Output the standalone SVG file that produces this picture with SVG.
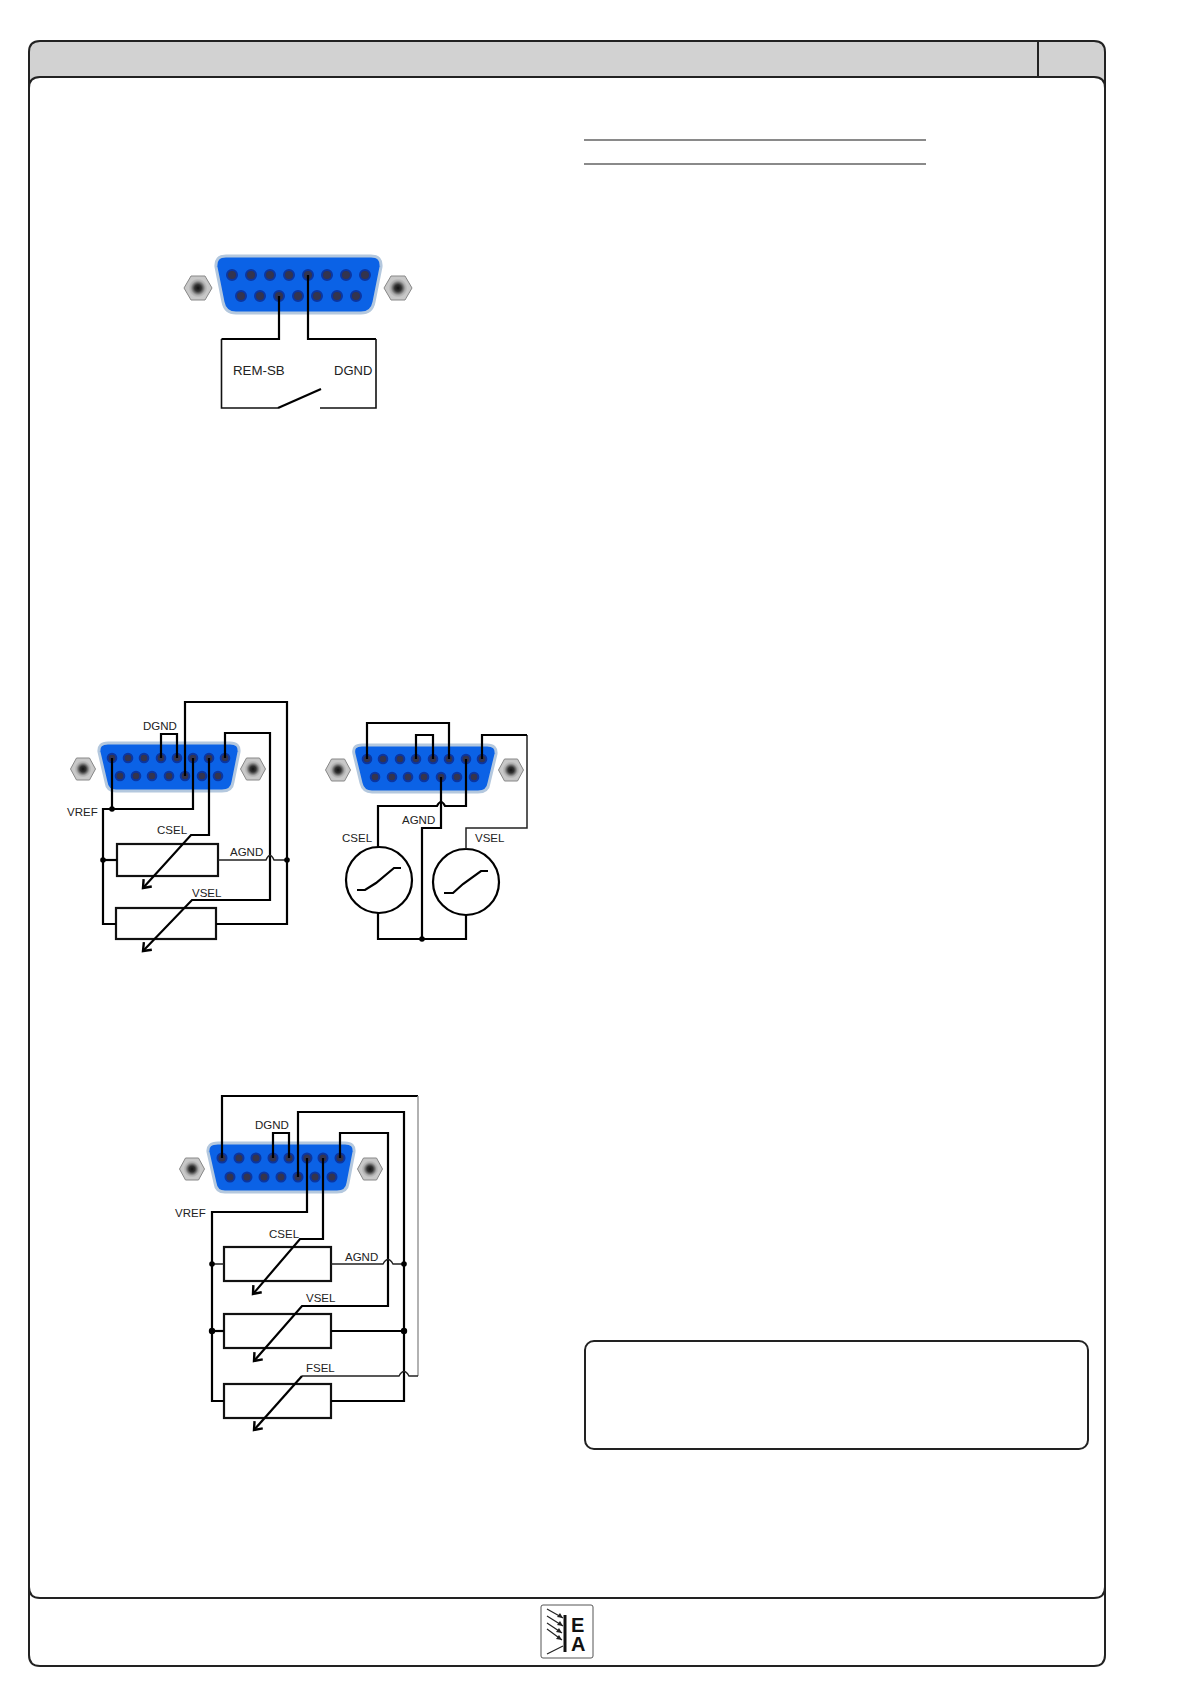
<svg xmlns="http://www.w3.org/2000/svg" width="1191" height="1684" viewBox="0 0 1191 1684">
<style>
.frame{fill:none;stroke:#222;stroke-width:2}
.body{fill:#0b62e6;stroke:#b4c8de;stroke-width:3;stroke-linejoin:round}
.pin{fill:#34344e;stroke:#0b35a0;stroke-width:2}
.w{fill:none;stroke:#000;stroke-width:2.2;stroke-linejoin:miter}
.s{fill:none;stroke:#111;stroke-width:1.6}
.t{fill:none;stroke:#222;stroke-width:1.5}
.g{fill:none;stroke:#999;stroke-width:1.5}
.r{fill:#fff;stroke:#111;stroke-width:2.2}
.ci{fill:#fff;stroke:#000;stroke-width:2.2}
.d{fill:#000}
text{font-family:"Liberation Sans",Arial,sans-serif;fill:#222;font-size:11.500px}
</style>
<defs>
<radialGradient id="sg"><stop offset="0" stop-color="#111"/><stop offset=".35" stop-color="#333"/><stop offset=".75" stop-color="#aaa"/><stop offset="1" stop-color="#c8c8c8"/></radialGradient>
<g id="screw"><polygon points="-14,0 -7,-12 7,-12 14,0 7,12 -7,12" fill="#c8c8c8" stroke="#888" stroke-width="1"/><circle r="9.500" fill="url(#sg)"/></g>
<g id="screwS"><polygon points="-12.500,0 -6.500,-11 6.500,-11 12.500,0 6.500,11 -6.500,11" fill="#c8c8c8" stroke="#888" stroke-width="1"/><circle r="8.500" fill="url(#sg)"/></g>
<marker id="ah" markerWidth="14" markerHeight="14" refX="10" refY="7" orient="auto" markerUnits="userSpaceOnUse"><path d="M3,1.500 L10,7 L3,12.500" fill="none" stroke="#000" stroke-width="2.400"/></marker>
</defs>
<rect width="1191" height="1684" fill="#fff"/>

<g id="page-frame">
<path d="M29,90 V52 Q29,41 40,41 H1094 Q1105,41 1105,52 V90 H29 Z" fill="#d2d2d2"/>
<path class="frame" d="M29,90 V52 Q29,41 40,41 H1094 Q1105,41 1105,52 V90"/>
<path d="M29,88 Q29,77 40,77 H1094 Q1105,77 1105,88 V1587 Q1105,1598 1094,1598 H40 Q29,1598 29,1587 Z" fill="#fff" stroke="#222" stroke-width="2"/>
<path class="frame" d="M1038,41 V77"/>
<path class="frame" d="M29,1587 V1655 Q29,1666 40,1666 H1094 Q1105,1666 1105,1655 V1587"/>
</g>

<g id="rules"><path d="M584,140 H926 M584,164 H926" fill="none" stroke="#8a8a8a" stroke-width="2"/></g>
<g id="note-box"><rect x="585" y="1341" width="503" height="108" rx="9" fill="#fff" stroke="#222" stroke-width="2"/></g>

<g id="logo">
<rect x="541" y="1605" width="52" height="53" rx="2" fill="#fff" stroke="#555" stroke-width="1"/>
<path d="M565,1615 V1652" stroke="#111" stroke-width="3" fill="none"/>
<path d="M547,1609 L563,1618 M547,1616 L563,1626 M547,1623 L562,1633 M547,1629 L562,1640 M547,1654 L563,1646" stroke="#222" stroke-width="1.200" fill="none"/>
<path d="M563,1618 L557,1617 L560,1613 Z M563,1626 L557,1625 L560,1621 Z M562,1633 L556,1632 L559,1628 Z M562,1640 L556,1639 L559,1635 Z" fill="#222"/>
<text x="571" y="1632" style="font-size:20px;font-weight:bold;fill:#111">E</text>
<text x="571" y="1651" style="font-size:20px;font-weight:bold;fill:#111">A</text>
</g>

<g id="connector-1">
<path class="body" d="M226,256 H371 Q382,256 381,267 L374,302 Q372,313 361,313 H236 Q225,313 223,302 L216,267 Q215,256 226,256 Z"/>
<g class="pin"><circle cx="232" cy="275" r="5"/><circle cx="251" cy="275" r="5"/><circle cx="270" cy="275" r="5"/><circle cx="289" cy="275" r="5"/><circle cx="308" cy="275" r="5"/><circle cx="327" cy="275" r="5"/><circle cx="346" cy="275" r="5"/><circle cx="365" cy="275" r="5"/><circle cx="241" cy="296" r="5"/><circle cx="260" cy="296" r="5"/><circle cx="279" cy="296" r="5"/><circle cx="298" cy="296" r="5"/><circle cx="317" cy="296" r="5"/><circle cx="337" cy="296" r="5"/><circle cx="356" cy="296" r="5"/></g>
<use href="#screw" x="198" y="288"/><use href="#screw" x="398" y="288"/>
</g>
<g id="connector-2">
<path class="body" d="M108,743 H230 Q240,743 239,752 L233,782 Q232,791 222,791 H116 Q107,791 106,782 L99,752 Q98,743 108,743 Z"/>
<g class="pin"><circle cx="112" cy="758" r="4.300"/><circle cx="128" cy="758" r="4.300"/><circle cx="144" cy="758" r="4.300"/><circle cx="161" cy="758" r="4.300"/><circle cx="177" cy="758" r="4.300"/><circle cx="193" cy="758" r="4.300"/><circle cx="209" cy="758" r="4.300"/><circle cx="225" cy="758" r="4.300"/><circle cx="120" cy="776" r="4.300"/><circle cx="136" cy="776" r="4.300"/><circle cx="152" cy="776" r="4.300"/><circle cx="169" cy="776" r="4.300"/><circle cx="185" cy="776" r="4.300"/><circle cx="202" cy="776" r="4.300"/><circle cx="218" cy="776" r="4.300"/></g>
<use href="#screwS" x="83" y="769"/><use href="#screwS" x="253" y="769"/>
</g>
<g id="connector-3">
<path class="body" d="M362,745 H487 Q497,745 496,754 L489,783 Q488,792 478,792 H372 Q363,792 361,783 L354,754 Q352,745 362,745 Z"/>
<g class="pin"><circle cx="367" cy="759" r="4.300"/><circle cx="383" cy="759" r="4.300"/><circle cx="400" cy="759" r="4.300"/><circle cx="416" cy="759" r="4.300"/><circle cx="433" cy="759" r="4.300"/><circle cx="449" cy="759" r="4.300"/><circle cx="466" cy="759" r="4.300"/><circle cx="482" cy="759" r="4.300"/><circle cx="375" cy="777" r="4.300"/><circle cx="392" cy="777" r="4.300"/><circle cx="408" cy="777" r="4.300"/><circle cx="424" cy="777" r="4.300"/><circle cx="441" cy="777" r="4.300"/><circle cx="457" cy="777" r="4.300"/><circle cx="474" cy="777" r="4.300"/></g>
<use href="#screwS" x="338" y="770"/><use href="#screwS" x="511" y="770"/>
</g>
<g id="connector-4">
<path class="body" d="M218,1143 H345 Q355,1143 354,1152 L348,1183 Q347,1192 337,1192 H225 Q216,1192 215,1183 L208,1152 Q207,1143 218,1143 Z"/>
<g class="pin"><circle cx="222" cy="1158" r="4.500"/><circle cx="239" cy="1158" r="4.500"/><circle cx="256" cy="1158" r="4.500"/><circle cx="273" cy="1158" r="4.500"/><circle cx="289" cy="1158" r="4.500"/><circle cx="307" cy="1158" r="4.500"/><circle cx="323" cy="1158" r="4.500"/><circle cx="340" cy="1158" r="4.500"/><circle cx="230" cy="1177" r="4.500"/><circle cx="247" cy="1177" r="4.500"/><circle cx="264" cy="1177" r="4.500"/><circle cx="281" cy="1177" r="4.500"/><circle cx="298" cy="1177" r="4.500"/><circle cx="315" cy="1177" r="4.500"/><circle cx="332" cy="1177" r="4.500"/></g>
<use href="#screwS" x="192" y="1169"/><use href="#screwS" x="370" y="1169"/>
</g>

<g id="nodes-components">
<rect id="r1" class="r" x="117" y="844" width="101" height="32"/>
<rect id="r2" class="r" x="116" y="908" width="100" height="31"/>
<circle id="csel-src" class="ci" cx="379" cy="880" r="33"/>
<circle id="vsel-src" class="ci" cx="466" cy="882" r="33"/>
<rect id="r3" class="r" x="224" y="1247" width="107" height="34"/>
<rect id="r4" class="r" x="224" y="1314" width="107" height="34"/>
<rect id="r5" class="r" x="224" y="1384" width="107" height="34"/>
</g>

<g id="connectors">
<path class="w" d="M279,296 V339 H221.500"/>
<path class="s" d="M221.500,339 V408 H278"/>
<path class="w" d="M278,408 L321,389"/>
<path class="w" d="M308,275 V339 H376"/>
<path class="s" d="M376,339 V408 H320"/>

<path class="w" d="M161,758 V734 H177 V758"/>
<path class="w" d="M185,776 V702 H287 V924 H216"/>
<path class="w" d="M225,758 V733 H270 V900 H192 L143,951" marker-end="url(#ah)"/>
<path class="w" d="M112,758 V809 H193 V758"/>
<path class="w" d="M112,809 H103 V924 H116"/>
<path class="w" d="M209,758 V835 H191 L143,888" marker-end="url(#ah)"/>
<path class="w" d="M103,860 H117"/>
<path class="t" d="M218,860 H266 Q270,851 274,860 H287"/>
<circle class="d" cx="112" cy="809" r="2.800"/><circle class="d" cx="103" cy="860" r="2.800"/><circle class="d" cx="287" cy="860" r="2.800"/>

<path class="w" d="M367,759 V723 H449 V759"/>
<path class="w" d="M416,759 V735 H433 V759"/>
<path class="t" d="M527,735 V828 H466 V849"/>
<path class="w" d="M482,759 V735 H527"/>
<path class="w" d="M466,759 V806 H445 Q441,798 437,806 H378 V847"/>
<path class="w" d="M441,777 V828 H422 V939"/>
<path class="w" d="M378,913 V939 H466 V915"/>
<circle class="d" cx="422" cy="939" r="2.800"/>
<path class="w" d="M357,890 H365 L376,883 L394,868 H401"/>
<path class="w" d="M444,893 H453 L463,884 L481,871 H488"/>

<path class="w" d="M273,1158 V1133 H289 V1158"/>
<path class="w" d="M222,1158 V1096 H418"/>
<path class="g" d="M418,1096 V1376"/>
<path class="w" d="M298,1177 V1112 H404 V1401 H331"/>
<path class="w" d="M340,1158 V1133 H388 V1306 H302 L254,1361" marker-end="url(#ah)"/>
<path class="w" d="M307,1158 V1212 H212 V1401 H224"/>
<path class="w" d="M323,1158 V1239 H300 L253,1294" marker-end="url(#ah)"/>
<path class="t" d="M212,1264 H224"/>
<path class="t" d="M331,1264 H383 Q388,1255 393,1264 H404"/>
<path class="w" d="M212,1331 H224"/>
<path class="w" d="M331,1331 H404"/>
<path class="t" d="M418,1376 H409 Q404,1367 399,1376 H302"/>
<path class="w" d="M302,1376 L254,1430" marker-end="url(#ah)"/>
<circle class="d" cx="212" cy="1264" r="2.800"/><circle class="d" cx="212" cy="1331" r="3.200"/><circle class="d" cx="404" cy="1264" r="2.800"/><circle class="d" cx="404" cy="1331" r="3.200"/>
</g>

<g id="labels">
<text x="233" y="375" style="font-size:13.300px">REM-SB</text>
<text x="334" y="375" style="font-size:13px">DGND</text>
<text x="143" y="730">DGND</text>
<text x="67" y="816">VREF</text>
<text x="157" y="834">CSEL</text>
<text x="230" y="856">AGND</text>
<text x="192" y="897">VSEL</text>
<text x="402" y="824">AGND</text>
<text x="342" y="842">CSEL</text>
<text x="475" y="842">VSEL</text>
<text x="255" y="1129">DGND</text>
<text x="175" y="1217">VREF</text>
<text x="269" y="1238">CSEL</text>
<text x="345" y="1261">AGND</text>
<text x="306" y="1302">VSEL</text>
<text x="306" y="1372">FSEL</text>
</g>
</svg>
